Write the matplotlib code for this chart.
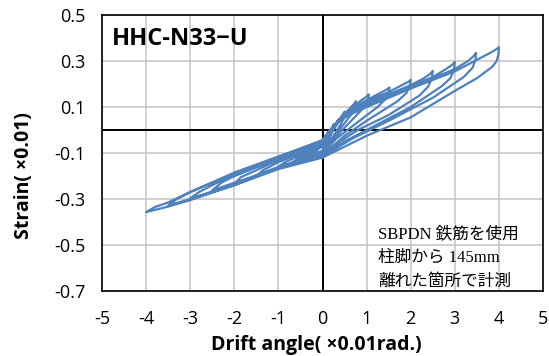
import matplotlib
matplotlib.use('Agg')
import matplotlib.pyplot as plt

# hysteresis cycles (drift angle, strain)
cyc_025 = [(0, -0.075), (0.1, -0.05), (0.2, -0.01), (0.25, 0.025), (0.23, 0.0), (0.15, -0.04),
           (0, -0.09), (-0.15, -0.1), (-0.25, -0.11), (-0.15, -0.09), (0, -0.07)]
cyc_050 = [(0, -0.07), (0.15, -0.03), (0.3, 0.02), (0.45, 0.065), (0.5, 0.08), (0.48, 0.05),
           (0.4, 0.02), (0.2, -0.04), (0, -0.10), (-0.25, -0.115), (-0.5, -0.135), (-0.4, -0.12),
           (-0.2, -0.095), (0, -0.065)]
cyc_075 = [(0, -0.065), (0.15, -0.025), (0.35, 0.03), (0.55, 0.08), (0.7, 0.11), (0.76, 0.125),
           (0.74, 0.1), (0.68, 0.075), (0.5, 0.03), (0.25, -0.035), (0, -0.10), (-0.4, -0.125),
           (-0.75, -0.15), (-0.6, -0.13), (-0.3, -0.1), (0, -0.06)]
cyc_100 = [(0, -0.06), (0.15, -0.02), (0.35, 0.035), (0.6, 0.085), (0.85, 0.125), (1.0, 0.145),
           (1.05, 0.155), (1.03, 0.13), (0.97, 0.105), (0.8, 0.07), (0.4, -0.01), (0, -0.105),
           (-0.5, -0.13), (-1, -0.16), (-0.85, -0.14), (-0.5, -0.11), (0, -0.055)]
cyc_150 = [(0, -0.055), (0.15, -0.015), (0.35, 0.04), (0.6, 0.085), (1.0, 0.13), (1.3, 0.16),
           (1.45, 0.175), (1.52, 0.185), (1.5, 0.16), (1.43, 0.135), (1.25, 0.1), (0.7, 0.02),
           (0.3, -0.04), (0, -0.105), (-0.7, -0.145), (-1.3, -0.185), (-1.5, -0.2),
           (-1.35, -0.175), (-1.0, -0.14), (-0.5, -0.1), (0, -0.05)]
cyc_200 = [(0, -0.05), (0.15, -0.01), (0.35, 0.04), (0.6, 0.085), (1.0, 0.125), (1.5, 0.165),
           (1.8, 0.195), (1.95, 0.21), (2.0, 0.218), (1.98, 0.19), (1.9, 0.16), (1.7, 0.125),
           (1.0, 0.04), (0.5, -0.025), (0, -0.11), (-1, -0.16), (-1.6, -0.205), (-2, -0.235),
           (-1.85, -0.205), (-1.5, -0.175), (-1, -0.13), (-0.5, -0.095), (0, -0.05)]
cyc_250 = [(0, -0.05), (0.15, -0.01), (0.35, 0.04), (0.6, 0.08), (1.0, 0.115), (1.5, 0.155),
           (2.0, 0.195), (2.3, 0.225), (2.45, 0.245), (2.5, 0.257), (2.48, 0.225), (2.4, 0.19),
           (2.2, 0.15), (1.5, 0.065), (0.8, 0.0), (0.4, -0.05), (0, -0.11), (-1, -0.165),
           (-2, -0.23), (-2.5, -0.262), (-2.3, -0.23), (-2, -0.2), (-1, -0.125), (-0.5, -0.09),
           (0, -0.045)]
cyc_300 = [(0, -0.045), (0.15, -0.005), (0.35, 0.04), (0.6, 0.075), (1.0, 0.11), (2.0, 0.19),
           (2.5, 0.23), (2.8, 0.265), (2.95, 0.285), (3.0, 0.296), (2.98, 0.26), (2.9, 0.225),
           (2.7, 0.19), (2.0, 0.1), (1.0, 0.0), (0.5, -0.05), (0, -0.115), (-1, -0.165),
           (-2, -0.235), (-2.7, -0.28), (-3, -0.297), (-2.8, -0.27), (-2.4, -0.23),
           (-1.5, -0.16), (-0.7, -0.1), (0, -0.045)]
cyc_350 = [(0, -0.045), (0.15, -0.005), (0.35, 0.035), (0.6, 0.07), (1.0, 0.105), (2.0, 0.185),
           (3.0, 0.265), (3.3, 0.3), (3.43, 0.322), (3.48, 0.335), (3.47, 0.305), (3.4, 0.27),
           (3.2, 0.23), (2.5, 0.14), (1.5, 0.04), (0.7, -0.035), (0, -0.115), (-1, -0.165),
           (-2, -0.24), (-3, -0.3), (-3.5, -0.328), (-3.3, -0.3), (-3, -0.27), (-2, -0.185),
           (-1, -0.115), (0, -0.045)]
cyc_400 = [(0, -0.045), (0.15, -0.005), (0.35, 0.035), (0.6, 0.065), (1.0, 0.1), (2.0, 0.18),
           (3.0, 0.255), (3.5, 0.305), (3.8, 0.335), (3.95, 0.352), (4.0, 0.36), (3.99, 0.33),
           (3.95, 0.3), (3.85, 0.275), (3.5, 0.225), (3.0, 0.17), (2.0, 0.055), (1.0, -0.025),
           (0, -0.12), (-1, -0.17), (-2, -0.24), (-3, -0.305), (-3.5, -0.333), (-4.0, -0.357),
           (-3.8, -0.335), (-3.5, -0.315), (-3, -0.27), (-2, -0.19), (-1, -0.12), (0, -0.045)]
cycles = [cyc_025, cyc_050, cyc_075, cyc_100, cyc_150, cyc_200, cyc_250, cyc_300, cyc_350, cyc_400]

x_ticks = [-5, -4, -3, -2, -1, 0, 1, 2, 3, 4, 5]
y_ticks = [-0.7, -0.5, -0.3, -0.1, 0.1, 0.3, 0.5]
specimen = 'HHC-N33\u2212U'
note_lines = ['SBPDN 鉄筋を使用', '柱脚から 145mm', '離れた箇所で計測']

plt.rcParams['font.family'] = ['Open Sans', 'DejaVu Sans']

fig = plt.figure(figsize=(5.49, 3.56), dpi=100)
ax = fig.add_axes([102 / 549, 65 / 356, 441 / 549, 276 / 356])

xs = [p[0] for c in cycles for p in c]
ys = [p[1] for c in cycles for p in c]
ax.plot(xs, ys, color='#4f81bd', lw=1.6, solid_joinstyle='round', zorder=3)

ax.set_xlim(-5, 5)
ax.set_ylim(-0.7, 0.5)
ax.set_xticks(x_ticks)
ax.set_xticklabels([str(t) for t in x_ticks])
ax.set_yticks(y_ticks)
ax.set_yticklabels([f'{t:.1f}' for t in y_ticks])
ax.tick_params(length=0, labelsize=13, pad=14)
ax.tick_params(axis='y', pad=12)
ax.grid(True, color='#c4c4c4', lw=1.1, zorder=0)
ax.axhline(0, color='black', lw=1.4, zorder=2)
ax.axvline(0, color='black', lw=1.4, zorder=2)
for s in ax.spines.values():
    s.set_linewidth(1.2)
    s.set_color('black')

ax.set_xlabel('Drift angle( \u00d70.01rad.)', fontsize=14, fontweight='bold')
ax.xaxis.set_label_coords(0.485, -0.16)
ax.set_ylabel('Strain( \u00d70.01)', fontsize=14, fontweight='bold')
ax.yaxis.set_label_coords(-0.155, 0.417)

ax.text(0.023, 0.891, specimen, transform=ax.transAxes, fontsize=17, fontweight='bold',
        va='baseline', ha='left')

for i, line in enumerate(note_lines):
    ax.text(0.626, 0.192 - i * 0.087, line, transform=ax.transAxes, fontsize=12,
            family=['Liberation Serif', 'Noto Sans CJK JP'], va='baseline', ha='left')

fig.savefig('out.png', dpi=100)
